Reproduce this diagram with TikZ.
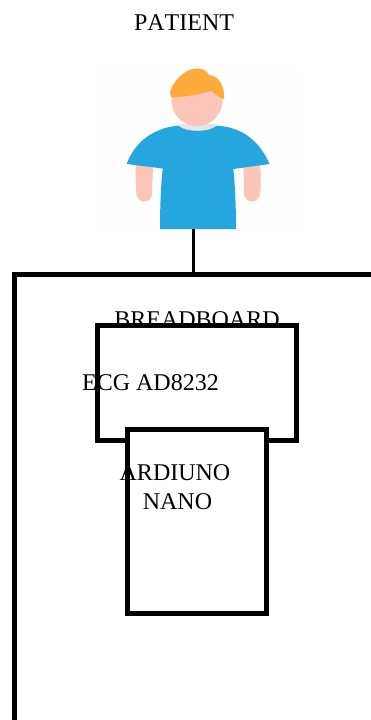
\documentclass[tikz,border=0pt]{standalone}
\usepackage{fontspec}
\setmainfont{Liberation Serif}
\usepackage{xcolor}
\usetikzlibrary{positioning}
\definecolor{shirt}{HTML}{26A6DE}
\definecolor{skin}{HTML}{FCC5B8}
\definecolor{hair}{HTML}{FDAB3A}
\definecolor{collar}{HTML}{E3E6E8}
\definecolor{pale}{HTML}{FEFEFE}
\tikzset{
  boardbox/.style={draw=black,line width=5pt,fill=white,inner sep=0pt},
  label/.style={font=\fontsize{24}{29}\selectfont\addfontfeature{Kerning=Off},align=center,inner sep=0pt}
}

\begin{document}
\begin{tikzpicture}[x=1pt,y=-1pt]
  \useasboundingbox (0,0) rectangle (371,720);
  \fill[pale] (96,66) rectangle (300,232);
  % arms and head
  \fill[skin] (135.7,165) -- (153,165) -- (152,194) .. controls (151.5,204) and (137.5,204) .. (136.5,194) .. controls (135.5,184) and (135.5,175) .. (135.7,165) -- cycle;
  \fill[skin] (243.5,165) -- (260,165) .. controls (261,175) and (261,185) .. (260,194) .. controls (259,204) and (245,204) .. (244,194) -- cycle;
  \fill[collar] (179,124) -- (216,124) -- (217,127) .. controls (210,133) and (185,133) .. (178,127) -- cycle;
  \fill[skin] (197,100.5) circle (25.5);
  % hair
  \fill[hair] (170,93) .. controls (171,84) and (184,68) .. (197,68.5) .. controls (203,68.5) and (207,71) .. (209,75) .. controls (219,76) and (225,86) .. (224,99) .. controls (219,97) and (214,94) .. (211,90.5) .. controls (203,94) and (185,97) .. (171.5,97.5) -- cycle;
  % shirt
  \fill[shirt] (126.7,164) .. controls (133,146) and (150,128) .. (178.3,125.7) .. controls (185,132.5) and (210,132.5) .. (216.7,125.7) .. controls (243,127) and (260,142) .. (269.5,164) -- (233.3,169) .. controls (235,185) and (236,205) .. (236,229) -- (160,229) .. controls (160,205) and (161,185) .. (162.7,168.5) -- cycle;
  \coordinate (hem) at (193.5,229);
  \node[label] (patient) at (184,23) {PATIENT};
  % boards
  \node[boardbox,minimum width=400pt,minimum height=500pt,anchor=north west,outer sep=0pt] (breadboard) at (14,274) {};
  \draw[line width=2.5pt] (hem) -- (hem |- breadboard.north);
  \node[label] (breadboardtext) at (197,320) {BREADBOARD};
  \node[boardbox,minimum width=198.5pt,minimum height=114.5pt,anchor=north west,outer sep=0pt] (ecg) at (97.5,325.5) {};
  \node[label] (ecgtext) at (150.5,382.5) {ECG AD8232};
  \node[boardbox,minimum width=139pt,minimum height=184pt,anchor=north west,outer sep=0pt] (nano) at (127.5,429.5) {};
  \node[label] (nanotext) at (175,487.5) {ARDIUNO\\\hspace*{5pt}NANO};
\end{tikzpicture}
\end{document}
